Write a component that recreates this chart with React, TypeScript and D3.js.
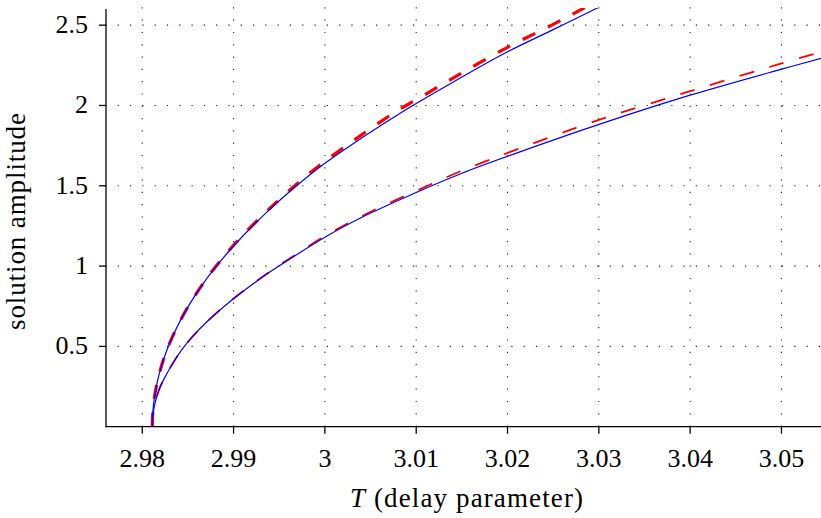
import React from "react";
import * as d3 from "d3";

// ---- data ----
const xTickValues = [2.98, 2.99, 3, 3.01, 3.02, 3.03, 3.04, 3.05];
const xTickLabels = ["2.98", "2.99", "3", "3.01", "3.02", "3.03", "3.04", "3.05"];
const yTickValues = [0.5, 1, 1.5, 2, 2.5];
const yTickLabels = ["0.5", "1", "1.5", "2", "2.5"];

// upper branch, numerical (blue solid)
const upperT = [2.9811, 2.98115, 2.9813, 2.9816, 2.982, 2.98267, 2.9835, 2.9845, 2.9855, 2.9865, 2.9876, 2.99, 2.9935, 2.9969, 3.0, 3.0041, 3.0082, 3.01, 3.0144, 3.02, 3.025, 3.0295, 3.031];
const upperA = [0, 0.084, 0.169, 0.267, 0.358, 0.473, 0.584, 0.696, 0.791, 0.877, 0.962, 1.125, 1.328, 1.5, 1.64, 1.8, 1.95, 2.012, 2.157, 2.334, 2.472, 2.598, 2.64];
// upper branch, approximation (red thick dashed)
const upperApproxT = [2.9811, 2.98115, 2.9813, 2.9816, 2.982, 2.98267, 2.9835, 2.9845, 2.9855, 2.9865, 2.9876, 2.99, 2.9935, 2.9969, 3.0, 3.0041, 3.0082, 3.01, 3.0144, 3.02, 3.025, 3.028, 3.03];
const upperApproxA = [0, 0.084, 0.169, 0.267, 0.358, 0.473, 0.584, 0.696, 0.791, 0.878, 0.965, 1.13, 1.334, 1.51, 1.652, 1.82, 1.977, 2.035, 2.183, 2.362, 2.505, 2.595, 2.655];
// lower branch, numerical (blue solid)
const lowerT = [2.9811, 2.98115, 2.9813, 2.9816, 2.982, 2.9826, 2.9834, 2.9844, 2.9856, 2.98705, 2.98982, 2.99288, 2.9943, 3.0, 3.005, 3.01, 3.015, 3.02135, 3.03011, 3.04, 3.05, 3.0545];
const lowerA = [0, 0.06, 0.12, 0.189, 0.253, 0.32, 0.4, 0.485, 0.567, 0.652, 0.789, 0.92, 0.975, 1.18, 1.33, 1.458, 1.578, 1.711, 1.884, 2.064, 2.226, 2.296];
// lower branch, approximation (red thin dashed)
const lowerApproxT = [2.9811, 2.98115, 2.9813, 2.9816, 2.982, 2.9826, 2.9834, 2.9844, 2.9856, 2.98705, 2.98982, 2.99288, 2.9943, 3.0, 3.005, 3.01, 3.015, 3.02135, 3.03, 3.04, 3.05, 3.0545];
const lowerApproxA = [0, 0.06, 0.12, 0.189, 0.253, 0.32, 0.4, 0.485, 0.567, 0.652, 0.79, 0.922, 0.978, 1.186, 1.338, 1.468, 1.594, 1.733, 1.91, 2.089, 2.262, 2.336];

const W = 821;
const H = 518;
const FONT = "'Liberation Serif', 'DejaVu Serif', serif";

export default function App() {
  const left = 106;
  const right = 821;
  const top = 9.1;
  const bottom = 426.7;

  const x = d3.scaleLinear().domain([2.97603, 3.05433]).range([left, right]);
  const y = d3.scaleLinear().domain([0, 2.6]).range([bottom, top]);

  const line = d3
    .line<[number, number]>()
    .x((d) => x(d[0]))
    .y((d) => y(d[1]))
    .curve(d3.curveCatmullRom.alpha(0.5));

  const zip = (a: number[], b: number[]) => a.map((v, i) => [v, b[i]] as [number, number]);

  const upper = line(zip(upperT, upperA)) || "";
  const upperApprox = line(zip(upperApproxT, upperApproxA)) || "";
  const lower = line(zip(lowerT, lowerA)) || "";
  const lowerApprox = line(zip(lowerApproxT, lowerApproxA)) || "";

  return (
    <svg
      width={W}
      height={H}
      style={{ position: "absolute", left: 0, top: 0, background: "#fff", fontFamily: FONT }}
    >
      <defs>
        <clipPath id="plotClip">
          <rect x={left} y={top - 1} width={right - left + 2} height={bottom - top + 1} />
        </clipPath>
      </defs>

      {/* grid */}
      <g stroke="#222" strokeWidth={1.1} strokeDasharray="1.2 11.1">
        {xTickValues.map((v) => (
          <line key={"gx" + v} x1={x(v)} x2={x(v)} y1={bottom} y2={top - 3} />
        ))}
        {yTickValues.map((v) => (
          <line key={"gy" + v} x1={left} x2={right} y1={y(v)} y2={y(v)} strokeDashoffset={0.6} />
        ))}
      </g>

      {/* curves */}
      <g clipPath="url(#plotClip)" fill="none">
        <path d={upperApprox} stroke="#ff0000" strokeWidth={3.2} strokeDasharray="14 14" />
        <path d={lowerApprox} stroke="#ff0000" strokeWidth={1.8} strokeDasharray="15 16" />
        <path d={upper} stroke="#0000ff" strokeWidth={1.2} />
        <path d={lower} stroke="#0000ff" strokeWidth={1.2} />
      </g>

      {/* axes */}
      <g stroke="#000" strokeWidth={1.3}>
        <line x1={left} x2={left} y1={top} y2={bottom + 0.6} />
        <line x1={left - 0.6} x2={right} y1={bottom} y2={bottom} />
        {xTickValues.map((v) => (
          <line key={"tx" + v} x1={x(v)} x2={x(v)} y1={bottom} y2={bottom + 7} />
        ))}
        {yTickValues.map((v) => (
          <line key={"ty" + v} x1={left - 7} x2={left} y1={y(v)} y2={y(v)} />
        ))}
      </g>

      {/* tick labels */}
      <g fontSize={26} fill="#000">
        {xTickValues.map((v, i) => (
          <text key={"lx" + v} x={x(v)} y={bottom + 40} textAnchor="middle">
            {xTickLabels[i]}
          </text>
        ))}
        {yTickValues.map((v, i) => (
          <text key={"ly" + v} x={88} y={y(v) + 8} textAnchor="end">
            {yTickLabels[i]}
          </text>
        ))}
      </g>

      {/* axis titles */}
      <text x={350} y={507} fontSize={27} textLength={233} lengthAdjust="spacing">
        <tspan fontStyle="italic">T</tspan>
        <tspan> (delay parameter)</tspan>
      </text>
      <text
        transform={`translate(25, ${221.5}) rotate(-90)`}
        textAnchor="middle"
        fontSize={27}
        textLength={217}
        lengthAdjust="spacing"
      >
        solution amplitude
      </text>
    </svg>
  );
}
